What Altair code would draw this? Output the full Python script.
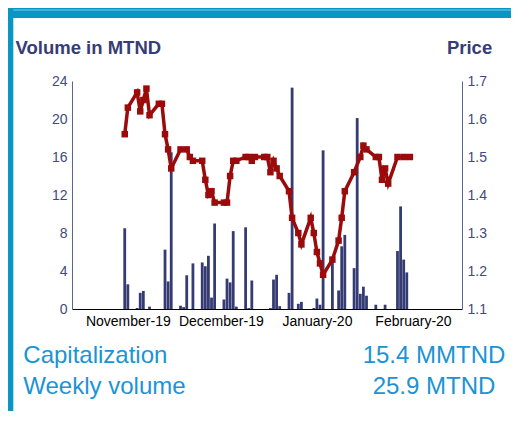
import altair as alt
import pandas as pd

# ---------------- data ----------------
vol_dates = [
    "2019-10-31", "2019-11-01", "2019-11-04", "2019-11-05", "2019-11-06", "2019-11-08",
    "2019-11-13", "2019-11-14", "2019-11-15", "2019-11-18", "2019-11-19", "2019-11-20",
    "2019-11-22", "2019-11-25", "2019-11-26", "2019-11-27", "2019-11-28", "2019-11-29",
    "2019-12-02", "2019-12-03", "2019-12-04", "2019-12-05", "2019-12-06", "2019-12-09",
    "2019-12-10", "2019-12-11", "2019-12-17", "2019-12-18", "2019-12-19", "2019-12-20",
    "2019-12-23", "2019-12-24", "2019-12-26", "2019-12-27", "2019-12-31", "2020-01-01",
    "2020-01-02", "2020-01-03", "2020-01-06", "2020-01-08", "2020-01-09", "2020-01-10",
    "2020-01-13", "2020-01-14", "2020-01-15", "2020-01-16", "2020-01-17", "2020-01-20",
    "2020-01-23", "2020-01-27", "2020-01-28", "2020-01-29", "2020-01-30",
]
vol_values = [
    8.5, 2.6, 0.1, 1.7, 1.9, 0.25,
    6.25, 2.9, 16.5, 0.35, 0.2, 3.55,
    4.8, 4.9, 4.5, 5.6, 1.2, 9.0,
    1.0, 3.2, 2.8, 8.2, 0.25, 8.6,
    0.1, 3.0, 0.1, 3.1, 3.6, 0.3,
    1.7, 23.3, 0.55, 0.75, 0.1, 1.1,
    0.45, 16.7, 5.15, 1.95, 6.6, 7.8,
    4.3, 20.1, 1.6, 2.35, 1.4, 0.45,
    0.45, 6.1, 10.8, 5.2, 3.85,
]

price_dates = [
    "2019-10-31", "2019-11-01", "2019-11-04", "2019-11-05", "2019-11-06", "2019-11-07",
    "2019-11-08", "2019-11-11", "2019-11-12", "2019-11-13", "2019-11-14", "2019-11-15",
    "2019-11-18", "2019-11-20", "2019-11-21", "2019-11-22", "2019-11-25", "2019-11-26",
    "2019-11-27", "2019-11-28", "2019-11-29", "2019-12-02", "2019-12-03", "2019-12-04",
    "2019-12-05", "2019-12-06", "2019-12-09", "2019-12-10", "2019-12-11", "2019-12-12",
    "2019-12-15", "2019-12-16", "2019-12-17", "2019-12-18", "2019-12-19", "2019-12-20",
    "2019-12-23", "2019-12-24", "2019-12-26", "2019-12-27", "2019-12-30", "2019-12-31",
    "2020-01-01", "2020-01-02", "2020-01-03", "2020-01-06", "2020-01-08", "2020-01-09",
    "2020-01-10", "2020-01-13", "2020-01-15", "2020-01-16", "2020-01-17", "2020-01-20",
    "2020-01-21", "2020-01-22", "2020-01-23", "2020-01-24", "2020-01-27", "2020-01-29",
    "2020-01-31",
]
price_values = [
    1.56, 1.63, 1.67, 1.62, 1.65, 1.68,
    1.61, 1.64, 1.64, 1.56, 1.52, 1.47,
    1.52, 1.52, 1.50, 1.49, 1.49, 1.44,
    1.40, 1.41, 1.38, 1.38, 1.38, 1.45,
    1.49, 1.49, 1.50, 1.50, 1.49, 1.50,
    1.50, 1.50, 1.46, 1.49, 1.47, 1.45,
    1.41, 1.34, 1.30, 1.27, 1.34, 1.30,
    1.25, 1.22, 1.19, 1.23, 1.28, 1.34,
    1.41, 1.46, 1.50, 1.53, 1.52, 1.50,
    1.50, 1.44, 1.47, 1.43, 1.50, 1.50,
    1.50,
]

month_ticks = [(2019, 11), (2019, 12), (2020, 1), (2020, 2)]
vol_ticks = [0, 4, 8, 12, 16, 20, 24]
price_ticks = [1.1, 1.2, 1.3, 1.4, 1.5, 1.6, 1.7]

left_title = "Volume in MTND"
right_title = "Price"
info_labels = ["Capitalization", "Weekly volume"]
info_values = ["15.4 MMTND", "25.9 MTND"]

# ---------------- styles ----------------
FONT = "Liberation Sans"
NAVY = "#353b73"
RED = "#9b0b0b"
TITLE_C = "#363d74"
LABEL_C = "#414a7e"
AXIS_C = "#5d6296"
INFO_C = "#1b94d4"
FRAME_C = "#0a95c4"
FRAME_LIGHT = "#7ccbe6"

W, H = 390, 228
PAD = {"left": 64, "top": 73, "right": 49, "bottom": 102}
L, T = PAD["left"], PAD["top"]
TOTAL_W = L + W + PAD["right"]

vol_df = pd.DataFrame({"date": [d + "T00:00:00" for d in vol_dates], "volume": vol_values})
price_df = pd.DataFrame({"date": [d + "T00:00:00" for d in price_dates], "price": price_values})

xscale = alt.Scale(domain=[
    alt.DateTime(year=2019, month=10, date=15, hours=14, minutes=24),
    alt.DateTime(year=2020, month=2, date=15, hours=4, minutes=48),
])

xaxis = alt.Axis(
    values=[alt.DateTime(year=y, month=m, date=1) for y, m in month_ticks],
    format="%B-%y", title=None, ticks=False, grid=False, labelFlush=False,
    labelPadding=5, labelFontSize=14, labelColor="black", labelFont=FONT,
    domainColor="black", domainWidth=1,
)

bars = alt.Chart(vol_df).mark_bar(size=2.8, color=NAVY).encode(
    x=alt.X("date:T", scale=xscale, axis=xaxis),
    y=alt.Y(
        "volume:Q",
        scale=alt.Scale(domain=[0, 24], nice=False, zero=True),
        axis=alt.Axis(
            values=vol_ticks, title=left_title, titleAngle=0, titleX=-57, titleY=-27.7,
            titleAlign="left", titleBaseline="alphabetic", titleFontSize=18.5,
            titleFontWeight="bold", titleColor=TITLE_C, titleFont=FONT,
            ticks=False, grid=False, domainColor=AXIS_C, labelColor=LABEL_C,
            labelFontSize=14, labelPadding=5, labelFont=FONT,
        ),
    ),
)

line = alt.Chart(price_df).mark_line(
    color=RED, strokeWidth=3.5,
    point=alt.OverlayMarkDef(shape="square", size=42, color=RED, filled=True, opacity=1),
).encode(
    x=alt.X("date:T", scale=xscale, axis=xaxis),
    y=alt.Y(
        "price:Q",
        scale=alt.Scale(domain=[1.1, 1.7], nice=False, zero=False),
        axis=alt.Axis(
            orient="right", values=price_ticks, format=".1f", title=right_title,
            titleAngle=0, titleX=29.7, titleY=-27.7, titleAlign="right",
            titleBaseline="alphabetic", titleFontSize=18.5, titleFontWeight="bold",
            titleColor=TITLE_C, titleFont=FONT, ticks=False, grid=False,
            domainColor=AXIS_C, labelColor=LABEL_C, labelFontSize=14,
            labelPadding=5, labelFont=FONT,
        ),
    ),
)

one = pd.DataFrame({"k": [0]})


def frame_rect(x1, x2, y1, y2, color):
    return alt.Chart(one).mark_rect(color=color).encode(
        x=alt.value(x1), x2=alt.value(x2), y=alt.value(y1), y2=alt.value(y2)
    )


def info_text(txt, x, y, align):
    return alt.Chart(pd.DataFrame({"t": [txt]})).mark_text(
        align=align, baseline="alphabetic", fontSize=24, font=FONT, color=INFO_C
    ).encode(text="t:N", x=alt.value(x), y=alt.value(y))


frame = [
    frame_rect(-L, TOTAL_W - L, -T, -T + 10, FRAME_C),
    frame_rect(-L, TOTAL_W - L, -T + 1.5, -T + 2.5, FRAME_LIGHT),
    frame_rect(-L, -L + 5.3, -T, 340, FRAME_C),
]

texts = [
    info_text(info_labels[0], 15.3 - L, 354.7 - T, "left"),
    info_text(info_labels[1], 15.3 - L, 386 - T, "left"),
    info_text(info_values[0], 426 - L, 354.7 - T, "center"),
    info_text(info_values[1], 426 - L, 386 - T, "center"),
]

chart = alt.layer(*frame, bars, line, *texts).resolve_scale(
    y="independent"
).properties(
    width=W, height=H,
    autosize=alt.AutoSizeParams(type="none"),
    padding=PAD,
    background="white",
).configure_view(stroke=None)

chart.save("out.html", embed_options={"renderer": "svg", "actions": False})
